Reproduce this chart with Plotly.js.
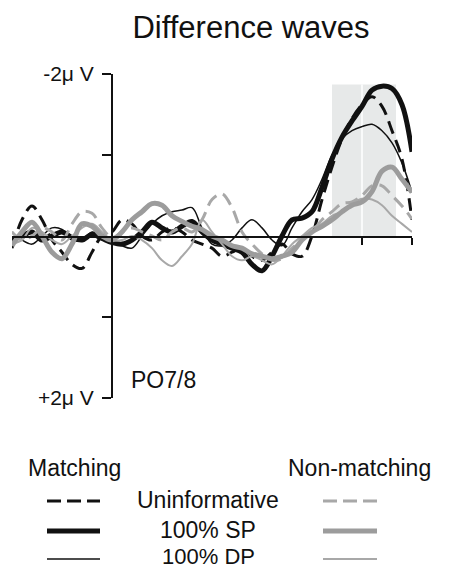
<!DOCTYPE html>
<html>
<head>
<meta charset="utf-8">
<script src="https://cdn.plot.ly/plotly-3.0.1.min.js"></script>
<style>html,body{margin:0;padding:0;background:#fff;}#chart{width:468px;height:568px;}</style>
</head>
<body>
<div id="chart"></div>
<script>
// Time in ms
const timeMs = [-100,-90,-80,-70,-60,-50,-40,-30,-20,-10,0,10,20,30,40,50,60,70,80,90,100,110,120,130,140,150,160,170,180,190,200,210,220,230,240,250,260,270,280,290,300];

// Amplitudes in microvolts (negative plotted upward)
const matchUninformative = [0.15,-0.2,-0.37,-0.2,0.05,0.2,0.35,0.4,0.2,0.0,-0.05,-0.2,-0.15,0.0,0.05,-0.05,-0.1,-0.05,0.05,0.1,0.15,0.25,0.2,0.15,0.25,0.3,0.2,0.1,0.22,0.25,0.0,-0.45,-0.85,-1.2,-1.45,-1.62,-1.72,-1.6,-1.3,-0.95,-0.2];
const matchSP = [0.05,0.0,-0.05,0.05,0.0,-0.05,0.02,0.05,-0.02,0.03,0.08,0.1,0.05,-0.05,-0.17,-0.1,-0.05,-0.12,-0.18,-0.05,0.05,0.1,0.15,0.2,0.35,0.43,0.25,0.0,-0.2,-0.22,-0.3,-0.6,-0.95,-1.22,-1.42,-1.6,-1.8,-1.85,-1.82,-1.62,-1.04];
const matchDP = [-0.05,0.05,0.1,0.0,-0.1,-0.08,0.05,0.05,-0.05,0.0,0.05,0.12,0.15,0.0,-0.15,-0.25,-0.3,-0.32,-0.35,-0.1,0.1,0.12,0.05,-0.1,-0.2,-0.1,0.05,0.12,-0.1,-0.3,-0.45,-0.7,-1.0,-1.2,-1.3,-1.35,-1.38,-1.3,-1.15,-0.9,-0.54];
const nonUninformative = [-0.05,0.05,0.0,-0.1,-0.05,0.05,-0.15,-0.3,-0.28,-0.1,0.02,-0.05,-0.1,-0.05,0.0,0.05,-0.05,-0.1,-0.05,-0.2,-0.45,-0.52,-0.35,-0.05,0.1,0.22,0.3,0.28,0.15,0.05,-0.05,-0.2,-0.3,-0.4,-0.42,-0.5,-0.62,-0.62,-0.5,-0.37,-0.21];
const nonSP = [0.12,-0.05,-0.17,0.0,0.2,0.28,0.1,-0.15,-0.12,0.0,0.05,-0.05,-0.2,-0.3,-0.4,-0.38,-0.25,-0.18,-0.12,-0.08,0.0,0.05,0.12,0.15,0.22,0.25,0.28,0.25,0.2,0.05,-0.05,-0.12,-0.2,-0.3,-0.38,-0.42,-0.55,-0.8,-0.85,-0.7,-0.54];
const nonDP = [0.1,0.05,-0.1,-0.05,0.05,0.1,0.0,-0.1,-0.15,-0.05,0.05,0.05,0.0,0.05,0.15,0.3,0.37,0.25,0.1,-0.2,-0.05,0.1,0.25,0.3,0.25,0.3,0.35,0.25,0.1,0.0,-0.1,-0.15,-0.25,-0.3,-0.4,-0.46,-0.45,-0.38,-0.25,-0.15,-0.05];

// Analysis window
const windowStart = 220, windowEnd = 284, windowSplit = 250, windowTop = -1.87;

const yTickVals = [-2,-1,1,2];
const yTickText = ['-2\u03bc V','','','+2\u03bc V'];
const xTickVals = [250,300];

const FONT = 'Liberation Sans, Arial, Helvetica, sans-serif';
const BLACK = '#111111';
const GRAY = '#9c9c9c';
const LGRAY = '#a8a8a8';

function tr(y, color, width, dash) {
  return {x: timeMs, y: y, type: 'scatter', mode: 'lines',
    line: {color: color, width: width, dash: dash || 'solid', shape: 'spline', smoothing: 1},
    hoverinfo: 'skip', showlegend: false};
}

const data = [
  tr(matchUninformative, BLACK, 3, '13px,7px'),
  tr(matchDP, BLACK, 1.5),
  tr(matchSP, BLACK, 5),
  tr(nonDP, LGRAY, 2),
  tr(nonUninformative, LGRAY, 3, '13px,7px'),
  tr(nonSP, GRAY, 5)
];

function px(xp){return (xp-12)/400;}
function py(yp){return (398-yp)/324;}

const shapes = [
  {type:'rect', xref:'x', yref:'y', x0:windowStart, x1:windowEnd, y0:0, y1:windowTop, fillcolor:'#e7e9e9', line:{width:0}, layer:'below'},
  {type:'line', xref:'x', yref:'y', x0:windowSplit, x1:windowSplit, y0:0, y1:windowTop, line:{color:'#ffffff', width:1.5}, layer:'below'},
  // legend samples
  {type:'line', xref:'paper', yref:'paper', x0:px(47), x1:px(100), y0:py(501), y1:py(501), line:{color:BLACK, width:3, dash:'14px,6px'}},
  {type:'line', xref:'paper', yref:'paper', x0:px(47), x1:px(100), y0:py(531), y1:py(531), line:{color:BLACK, width:5}},
  {type:'line', xref:'paper', yref:'paper', x0:px(47), x1:px(100), y0:py(559), y1:py(559), line:{color:BLACK, width:1.5}},
  {type:'line', xref:'paper', yref:'paper', x0:px(323), x1:px(377), y0:py(501), y1:py(501), line:{color:LGRAY, width:3, dash:'14px,6px'}},
  {type:'line', xref:'paper', yref:'paper', x0:px(323), x1:px(377), y0:py(531), y1:py(531), line:{color:GRAY, width:5}},
  {type:'line', xref:'paper', yref:'paper', x0:px(323), x1:px(377), y0:py(559), y1:py(559), line:{color:LGRAY, width:2}}
];

function ann(text, x, y, size) {
  return {text: text, xref:'paper', yref:'paper', x: px(x), y: py(y), showarrow:false,
    xanchor:'center', yanchor:'middle', font:{family:FONT, size:size||23, color:BLACK}};
}

const annotations = [
  {text:'300 ms', xref:'x', yref:'y', x:316, y:0.57, showarrow:false, xanchor:'center', yanchor:'middle', font:{family:FONT, size:23, color:BLACK}},
  {text:'PO7/8', xref:'x', yref:'y', x:51, y:1.78, showarrow:false, xanchor:'center', yanchor:'middle', font:{family:FONT, size:23, color:BLACK}},
  ann('Matching', 74, 468),
  ann('Non-matching', 359.5, 468),
  ann('Uninformative', 208, 500),
  ann('100% SP', 208, 530),
  ann('100% DP', 208, 556, 22)
];

const layout = {
  width: 468, height: 568,
  margin: {l: 12, r: 56, t: 74, b: 170},
  paper_bgcolor: '#ffffff', plot_bgcolor: 'rgba(0,0,0,0)',
  showlegend: false,
  title: {text: 'Difference waves', x: 251/468, xref: 'container', xanchor: 'center',
          y: 1 - 27/568, yref: 'container', yanchor: 'middle',
          font: {family: FONT, size: 31, color: BLACK}},
  xaxis: {range: [-100, 300], domain: [0,1], anchor: 'free', position: 0.5,
          showline: true, linecolor: BLACK, linewidth: 1.5,
          ticks: 'outside', tickvals: xTickVals, ticklen: 7, tickwidth: 1.5, tickcolor: BLACK,
          showticklabels: false, showgrid: false, zeroline: false, fixedrange: true},
  yaxis: {range: [2, -2], domain: [0,1], anchor: 'free', position: 0.25,
          showline: true, linecolor: BLACK, linewidth: 2,
          ticks: 'outside', tickvals: yTickVals, ticktext: yTickText, ticklen: 9, tickwidth: 1.5, tickcolor: BLACK,
          ticklabelstandoff: 4,
          tickfont: {family: FONT, size: 21, color: BLACK},
          showgrid: false, zeroline: false, fixedrange: true},
  shapes: shapes,
  annotations: annotations
};

Plotly.newPlot('chart', data, layout, {displayModeBar: false, staticPlot: true});
</script>
</body>
</html>
